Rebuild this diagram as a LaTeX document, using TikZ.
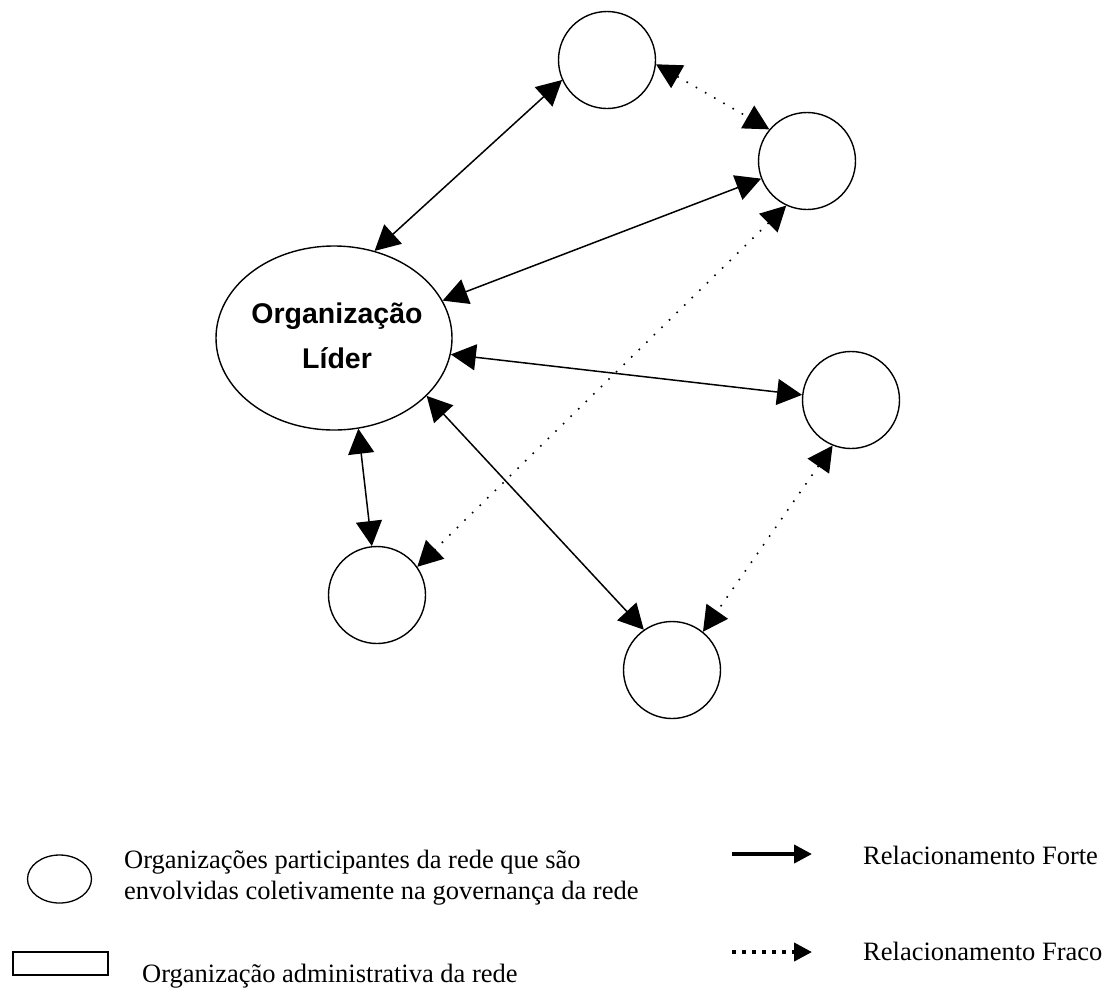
\documentclass[tikz,border=0pt]{standalone}
\usepackage{fontspec}
\setmainfont{Liberation Serif}
\newfontfamily\leadfont{Liberation Sans}
\usetikzlibrary{arrows.meta,shapes.geometric}

\begin{document}
\begin{tikzpicture}[x=1pt,y=-1pt,
  org/.style={circle, draw, line width=1.4pt, minimum size=97pt, inner sep=0pt},
  strong/.style={line width=1.5pt, {Triangle[length=25pt,width=26pt]}-{Triangle[length=25pt,width=26pt]}},
  weak/.style={line width=1.6pt, dash pattern=on 1.6pt off 9pt,
    {Triangle[length=25pt,width=26pt]}-{Triangle[length=25pt,width=26pt]}},
  legtext/.style={font=\fontsize{26.5}{31}\selectfont, inner sep=0pt, anchor=base west},
  legstrong/.style={line width=4pt, -{Triangle[length=18pt,width=18pt]}},
  legweak/.style={line width=4pt, dash pattern=on 4pt off 6pt, -{Triangle[length=18pt,width=18pt]}}]

\useasboundingbox (0,0) rectangle (1110,989);

% leading organisation
\node[ellipse, draw, line width=1.4pt, minimum width=236pt, minimum height=184pt, inner sep=0pt] (lead) at (334,338) {};
\node[font=\leadfont\bfseries\fontsize{28.5}{45}\selectfont, align=center, inner sep=0pt] (leadtxt) at (337,336) {Organização\\Líder};

% participating organisations
\node[org] (ntop) at (607,60) {};
\node[org] (nru) at (807,161) {};
\node[org] (nrm) at (851,400) {};
\node[org] (nbl) at (377,595) {};
\node[org] (nbm) at (672,670) {};

% strong relationships
\draw[strong] (lead.65) -- (ntop.204);
\draw[strong] (lead.19) -- (nru.201);
\draw[strong] (lead.-8) -- (nrm.174);
\draw[strong] (lead.-32) -- (nbm.125);
\draw[strong] (lead.-75) -- (nbl.96);

% weak relationships
\draw[weak] (ntop.-5) -- (nru.140);
\draw[weak] (nru.245) -- (nbl.35);
\draw[weak] (nrm.248) -- (nbm.51);

% legend: shapes
\node[ellipse, draw, line width=1.3pt, minimum width=64pt, minimum height=48pt, inner sep=0pt] (legorg) at (59.5,879) {};
\node[legtext] (legorgA) at (124,868) {Organizações participantes da rede que são};
\node[legtext] (legorgB) at (124,899) {envolvidas coletivamente na governança da rede};
\node[rectangle, draw, line width=1.3pt, minimum width=95pt, minimum height=23pt, inner sep=0pt] (legadm) at (60.5,963.5) {};
\node[legtext] (legadmtxt) at (142,982) {Organização administrativa da rede};

% legend: relationships
\coordinate (lsA) at (732,854);
\coordinate (lsB) at (812,854);
\coordinate (lwA) at (732,952);
\coordinate (lwB) at (812,952);
\draw[legstrong] (lsA) -- (lsB);
\draw[legweak] (lwA) -- (lwB);
\node[legtext] (legforte) at (863,864) {Relacionamento Forte};
\node[legtext] (legfraco) at (863,960) {Relacionamento Fraco};
\end{tikzpicture}
\end{document}
